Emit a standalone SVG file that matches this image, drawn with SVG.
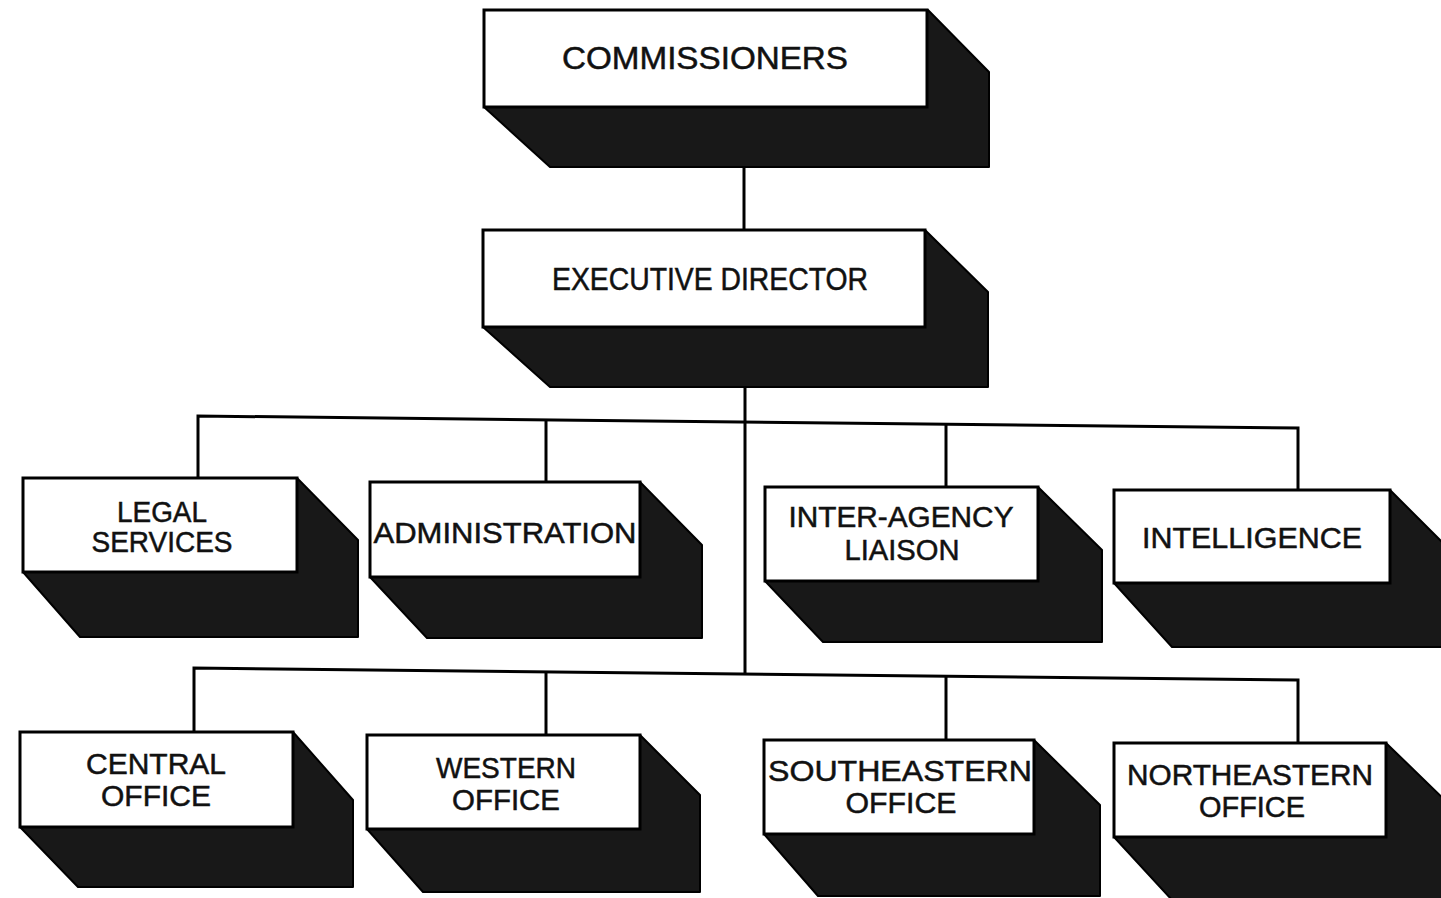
<svg xmlns="http://www.w3.org/2000/svg" width="1441" height="898" viewBox="0 0 1441 898">
<style>
.bg{fill:#ffffff}
.side{fill:#181818;stroke:#000;stroke-width:2;stroke-linejoin:round}
.face{fill:#ffffff;stroke:#000;stroke-width:3}
.lbl{font-family:"Liberation Sans",Arial,sans-serif;fill:#111;stroke:#111;stroke-width:0.5;text-anchor:middle}
.big{font-size:31px}
.sm{font-size:29px}
.ln{stroke:#000;stroke-width:3;fill:none}
</style>
<rect class="bg" x="0" y="0" width="1441" height="898"/>
<g id="connectors">
<line class="ln" x1="744" y1="160" x2="744" y2="232"/>
<line class="ln" x1="745" y1="380" x2="745" y2="674"/>
<polyline class="ln" points="198,478 198,416 1298,428 1298,490"/>
<line class="ln" x1="546" y1="420" x2="546" y2="482"/>
<line class="ln" x1="946" y1="424" x2="946" y2="487"/>
<polyline class="ln" points="194,732 194,668 1298,680 1298,743"/>
<line class="ln" x1="546" y1="672" x2="546" y2="735"/>
<line class="ln" x1="946" y1="676" x2="946" y2="740"/>
</g>
<g id="commissioners">
<polygon class="side" points="484,107 550,167 989,167 989,72 928,10"/>
<rect class="face" x="484" y="10" width="443" height="97"/>
<text class="lbl big" x="705" y="69" textLength="286" lengthAdjust="spacingAndGlyphs">COMMISSIONERS</text>
</g>
<g id="executive-director">
<polygon class="side" points="483,327 550,387 988,387 988,292 925,230"/>
<rect class="face" x="483" y="230" width="442" height="97"/>
<text class="lbl big" x="710" y="290" textLength="316" lengthAdjust="spacingAndGlyphs">EXECUTIVE DIRECTOR</text>
</g>
<g id="legal-services">
<polygon class="side" points="23,572 80,637 358,637 358,540 297,478"/>
<rect class="face" x="23" y="478" width="274" height="94"/>
<text class="lbl sm" x="162" y="522" textLength="90" lengthAdjust="spacingAndGlyphs">LEGAL</text>
<text class="lbl sm" x="162" y="552" textLength="141" lengthAdjust="spacingAndGlyphs">SERVICES</text>
</g>
<g id="administration">
<polygon class="side" points="370,577 427,638 702,638 702,545 640,482"/>
<rect class="face" x="370" y="482" width="270" height="95"/>
<text class="lbl sm" x="505" y="543" textLength="263" lengthAdjust="spacingAndGlyphs">ADMINISTRATION</text>
</g>
<g id="inter-agency-liaison">
<polygon class="side" points="765,581 823,642 1102,642 1102,550 1038,487"/>
<rect class="face" x="765" y="487" width="273" height="94"/>
<text class="lbl sm" x="901" y="527" textLength="225" lengthAdjust="spacingAndGlyphs">INTER-AGENCY</text>
<text class="lbl sm" x="902" y="560" textLength="115" lengthAdjust="spacingAndGlyphs">LIAISON</text>
</g>
<g id="intelligence">
<polygon class="side" points="1114,583 1172,647 1452,647 1452,552 1390,490"/>
<rect class="face" x="1114" y="490" width="276" height="93"/>
<text class="lbl sm" x="1252" y="548" textLength="220" lengthAdjust="spacingAndGlyphs">INTELLIGENCE</text>
</g>
<g id="central-office">
<polygon class="side" points="20,827 78,887 353,887 353,800 293,732"/>
<rect class="face" x="20" y="732" width="273" height="95"/>
<text class="lbl sm" x="156" y="774" textLength="140" lengthAdjust="spacingAndGlyphs">CENTRAL</text>
<text class="lbl sm" x="156" y="806" textLength="110" lengthAdjust="spacingAndGlyphs">OFFICE</text>
</g>
<g id="western-office">
<polygon class="side" points="367,829 423,892 700,892 700,795 640,735"/>
<rect class="face" x="367" y="735" width="273" height="94"/>
<text class="lbl sm" x="506" y="778" textLength="140" lengthAdjust="spacingAndGlyphs">WESTERN</text>
<text class="lbl sm" x="506" y="810" textLength="108" lengthAdjust="spacingAndGlyphs">OFFICE</text>
</g>
<g id="southeastern-office">
<polygon class="side" points="764,834 818,896 1100,896 1100,805 1034,740"/>
<rect class="face" x="764" y="740" width="270" height="94"/>
<text class="lbl sm" x="900" y="781" textLength="264" lengthAdjust="spacingAndGlyphs">SOUTHEASTERN</text>
<text class="lbl sm" x="901" y="813" textLength="111" lengthAdjust="spacingAndGlyphs">OFFICE</text>
</g>
<g id="northeastern-office">
<polygon class="side" points="1114,837 1172,900 1450,900 1450,805 1386,743"/>
<rect class="face" x="1114" y="743" width="272" height="94"/>
<text class="lbl sm" x="1250" y="785" textLength="246" lengthAdjust="spacingAndGlyphs">NORTHEASTERN</text>
<text class="lbl sm" x="1252" y="817" textLength="106" lengthAdjust="spacingAndGlyphs">OFFICE</text>
</g>
</svg>
